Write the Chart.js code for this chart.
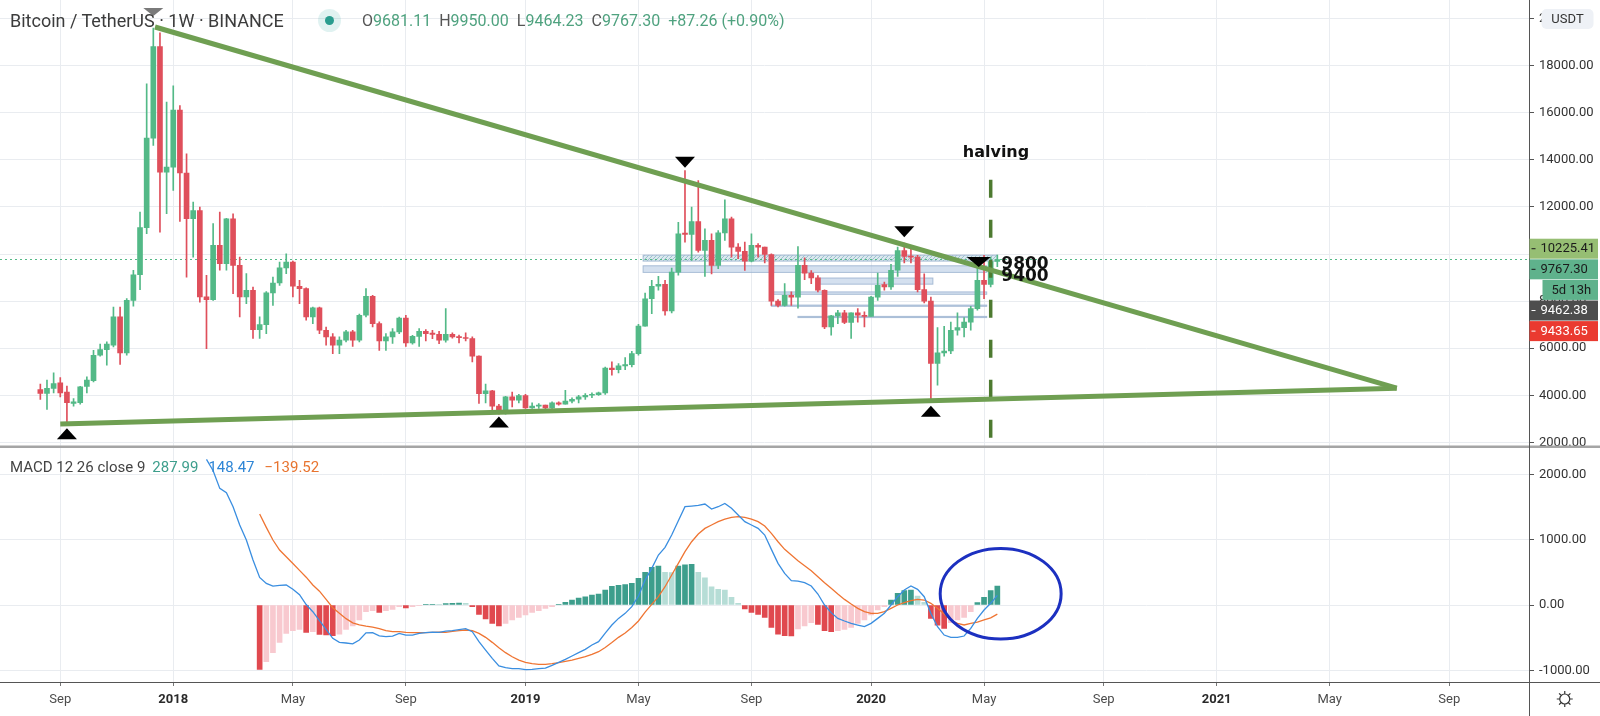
<!DOCTYPE html>
<html>
<head>
<meta charset="utf-8">
<title>BTCUSDT 1W</title>
<script src="https://cdn.jsdelivr.net/npm/chart.js@4.4.1/dist/chart.umd.min.js"></script>
<style>
html, body { margin: 0; padding: 0; background: #fff; }
#wrap { position: relative; width: 1600px; height: 716px; overflow: hidden; font-family: Roboto, "Liberation Sans", sans-serif; }
#chart { position: absolute; left: 0; top: 0; }
.over { position: absolute; white-space: nowrap; line-height: 1; }
#title { left: 10px; top: 12px; font-size: 18px; color: #3c3c3c; }
#live { left: 318px; top: 9px; width: 23px; height: 23px; border-radius: 50%; background: rgba(38,166,154,0.14); }
#live::after { content: ""; position: absolute; left: 7px; top: 7px; width: 9px; height: 9px; border-radius: 50%; background: #2a9d8f; }
#ohlc { left: 362px; top: 13px; font-size: 16px; color: #555; }
#ohlc .v { color: #4fa27f; }
#ohlc .g { margin-left: 8px; }
#macd { left: 10px; top: 460px; font-size: 15px; color: #444; }
#macd .h { color: #3d9e8c; margin-left: 7px; }
#macd .m { color: #2f86d6; margin-left: 10px; }
#macd .s { color: #e8742f; margin-left: 10px; }
</style>
</head>
<body>
<div id="wrap">
  <canvas id="chart" width="1600" height="716"></canvas>
  <div id="title" class="over">Bitcoin / TetherUS · 1W · BINANCE</div>
  <div id="live" class="over"></div>
  <div id="ohlc" class="over">O<span class="v">9681.11</span><span class="g">H</span><span class="v">9950.00</span><span class="g">L</span><span class="v">9464.23</span><span class="g">C</span><span class="v">9767.30</span><span class="g v">+87.26 (+0.90%)</span></div>
  <div id="macd" class="over">MACD 12 26 close 9<span class="h">287.99</span><span class="m">148.47</span><span class="s">−139.52</span></div>
</div>
<script>
// weeks are counted from Mon 1 Jan 2018 (week 0); first candle is 14 Aug 2017
const FIRST_WEEK = -20;

const opens = [4240,4080,4290,4530,4140,3650,3690,4380,4620,5700,
  5940,6130,7330,5800,8030,9120,11120,14920,18810,13480,
  13690,16120,13440,11500,11850,8180,8060,10370,9590,11500,
  9520,8180,8460,6790,7000,8350,8770,9410,9660,8630,
  8530,7330,7710,6760,6480,6130,6340,6690,6340,7400,
  8200,7040,6310,6480,6690,7280,6220,6500,6720,6640,
  6590,6340,6590,6480,6450,6410,5660,4070,4190,3540,
  3250,3930,3790,3990,3460,3540,3580,3460,3680,3620,
  3750,3830,3930,4000,4030,4100,5160,5090,5250,5300,
  5770,6940,8100,8630,8710,7580,9230,10890,10830,11380,
  10150,10580,9520,10900,11500,10290,10110,9700,10370,10290,
  9980,8000,7820,8240,8170,9520,9190,8990,8460,6900,
  7370,7500,7090,7500,7400,7350,8170,8700,8600,9310,
  10150,9900,9870,8490,8000,5350,5800,5880,6760,6870,
  7110,7680,8880,8710,9681.11];
const highs = [4470,4640,4950,4750,4390,3860,4380,4780,5910,6170,
  6270,7750,7750,8110,9310,11780,17230,19600,19400,16450,
  17150,16310,14260,12210,11990,9090,11290,11780,11520,11710,
  9870,9170,8600,7330,8400,9020,9660,10010,9700,8880,
  8560,7750,7750,6900,6620,6480,6760,6760,7450,8530,
  8250,7120,6620,6830,7320,7400,6550,6830,6790,6760,
  6720,7680,6650,6560,6650,6480,5680,4470,4210,3620,
  3960,4140,4040,4040,3680,3650,3580,3720,3720,4210,
  3890,4000,4070,4100,4140,5200,5420,5350,5600,5870,
  7010,8340,8880,9050,8880,9400,11350,13550,11990,13120,
  11070,10860,11000,12300,11570,10440,10510,10860,10440,10300,
  10010,8060,8740,8390,10320,9840,9300,9080,8480,7400,
  7610,7610,7500,7680,7540,8200,9190,8810,9560,10300,
  10470,10220,9940,9160,8170,6870,6930,7110,7500,7300,
  7780,9590,9940,9870,9950];
const lows = [3820,3400,4100,3930,2800,3540,3620,4100,4570,5660,
  5280,6050,5310,5700,7780,8490,10860,14610,10930,11710,
  12700,11390,9020,9870,7960,5980,8030,9310,9310,8320,
  7330,7890,6410,6410,6620,7820,8670,9170,8180,7890,
  7190,7040,6620,6130,5770,5770,6270,6080,6270,7330,
  6900,5910,5910,6200,6620,6080,6170,6080,6310,6400,
  6190,6260,6430,6220,6310,5420,3650,3680,3300,3200,
  3200,3510,3680,3440,3440,3440,3370,3440,3580,3620,
  3680,3680,3820,3900,3990,4040,4850,4950,5090,5200,
  5700,6930,7470,8460,7400,7500,9100,10500,9730,10080,
  9050,9160,9380,10580,9870,9800,9300,9660,9870,9620,
  7820,7750,7780,7820,7700,8910,8740,8390,6830,6550,
  7040,7040,6410,7110,6900,7350,8030,8460,8500,9050,
  9620,9620,8390,7920,3790,4430,5660,5770,6550,6480,
  6760,7610,8100,8600,9464.23];
const closes = [4080,4290,4500,4100,3690,3720,4360,4640,5700,5940,
  6170,7330,5800,8030,9120,11120,14920,18810,13480,13690,
  16120,13440,11500,11850,8180,8060,10370,9590,11500,9520,
  8180,8460,6790,7000,8350,8770,9410,9660,8630,8530,
  7330,7710,6760,6480,6130,6340,6690,6340,7400,8200,
  7040,6310,6480,6690,7280,6220,6500,6720,6620,6590,
  6340,6590,6480,6450,6410,5660,4070,4190,3540,3250,
  3930,3790,3990,3460,3540,3580,3460,3680,3620,3750,
  3830,3930,4000,4030,4100,5160,5090,5250,5300,5770,
  6940,8100,8630,8710,7580,9230,10860,10830,11380,10150,
  10580,9520,10900,11500,10290,10110,9700,10370,10290,9980,
  8000,7820,8240,8170,9520,9190,8990,8460,6900,7370,
  7500,7090,7500,7400,7350,8170,8670,8600,9310,10150,
  9900,9870,8490,8000,5350,5800,5880,6760,6870,7110,
  7680,8880,8710,9680,9767.30];

// MACD 12 26 9: line starts at week 5, signal and histogram at week 13
const MACD_FIRST_WEEK = 5;
const macdLine = [2230,2056,1786,1720,1505,1225,995,689,423,331,
  290,301,306,242,158,7,-103,-238,-373,-511,
  -572,-582,-595,-536,-426,-424,-473,-485,-475,-434,
  -460,-460,-434,-424,-414,-419,-399,-393,-378,-363,
  -409,-562,-690,-817,-934,-960,-975,-975,-991,-986,
  -975,-965,-924,-878,-832,-781,-730,-679,-613,-562,
  -430,-307,-205,-128,-26,138,382,561,765,883,
  1071,1291,1505,1515,1526,1546,1469,1505,1556,1480,
  1378,1276,1225,1173,1071,852,638,484,372,367,
  342,291,168,0,-117,-205,-245,-281,-307,-332,
  -281,-205,-128,0,127,229,291,240,127,-128,
  -332,-460,-495,-495,-475,-358,-205,-77,26,148];
const SIGNAL_FIRST_WEEK = 13;
const signalLine = [1393,1189,995,842,740,635,530,426,306,212,
  87,-41,-127,-209,-273,-306,-324,-338,-360,-393,
  -409,-409,-419,-424,-424,-424,-419,-414,-419,-404,
  -393,-383,-393,-434,-495,-572,-654,-730,-792,-843,
  -878,-899,-909,-909,-899,-884,-863,-843,-817,-792,
  -756,-715,-650,-575,-495,-430,-345,-245,-110,10,
  127,280,459,638,816,969,1087,1173,1225,1276,
  1316,1342,1352,1342,1316,1276,1209,1097,969,852,
  765,678,602,525,433,342,255,168,86,15,
  -51,-102,-128,-128,-102,-51,0,36,66,87,
  76,26,-51,-138,-230,-281,-306,-280,-262,-228,
  -198,-140];
const histogram = [-985,-868,-730,-572,-434,-393,-373,-419,-409,-450,
  -460,-470,-445,-373,-322,-230,-102,-87,-113,-87,
  -67,-26,-46,-26,-10,10,10,6,20,26,
  31,26,-26,-143,-215,-281,-322,-281,-230,-189,
  -153,-113,-87,-51,-26,10,41,76,107,127,
  153,168,229,285,303,311,331,408,500,577,
  597,500,498,597,617,622,500,418,280,240,
  229,117,26,-61,-113,-143,-189,-342,-445,-470,
  -472,-368,-322,-271,-296,-393,-409,-393,-373,-342,
  -281,-230,-153,-77,-26,76,179,219,229,138,
  41,-204,-307,-358,-271,-230,-189,-102,36,117,
  219,288];

// time axis: first weekly bar of each labelled month
const tickWeeks = [-17, 0, 18, 35, 53, 70, 87, 105, 122, 140, 157, 174, 192];
const tickLabels = ['Sep', '2018', 'May', 'Sep', '2019', 'May', 'Sep', '2020', 'May', 'Sep', '2021', 'May', 'Sep'];
const priceTicks = [2000, 4000, 6000, 8000, 10000, 12000, 14000, 16000, 18000, 20000];
const macdTicks = [-1000, 0, 1000, 2000];

// drawings on the price pane (week, price)
const upperTrend = [[-2.75, 19644], [184.1, 4300]];
const lowerTrend = [[-17, 2779], [184.1, 4300]];
const halvingWeek = 123;
const halvingRange = [13150, 2050];
const lastPrice = 9767.30;

const markerWeeks = [-3, -16, 49, 77, 110, 114, 121.2];
const markerPrices = [20280, 2360, 2860, 13900, 10944, 3316, 9660];
const markerPointsDown = [true, false, false, true, true, false, true];

const bandFrom = [70.7, 70.7, 97.3, 90, 90, 94];
const bandTo = [124, 122.4, 114.3, 122.4, 122.4, 122.4];
const bandLow = [9700, 9220, 8720, 8290, 7780, 7300];
const bandHigh = [9950, 9500, 8980, 8390, 7830, 7350];

const noteTexts = ['halving', '9800', '9400'];
const noteWeeks = [118.8, 124.6, 124.6];
const notePrices = [14290, 9534, 9024];

// ellipse on the MACD pane: centre and half sizes
const circle = { week: 124.5, value: 173, halfWeeks: 9.1, halfValue: 694 };

const priceBadges = [
  { value: 10225.41, bg: '#96be73', fg: '#1b1b1b' },
  { value: 9767.30, bg: '#5fb28c', fg: '#1b1b1b', countdown: '5d 13h' },
  { value: 9462.38, bg: '#4d4d4d', fg: '#ffffff' },
  { value: 9433.65, bg: '#ea3a30', fg: '#ffffff' }
];

const UP = '#53b987';
const DOWN = '#df4f5b';
const TREND = '#6f9f52';
const GRID = '#e9ecf0';

const isUp = i => closes[i] >= opens[i];

function hatchPattern(ctx) {
  const c = document.createElement('canvas');
  c.width = 4;
  c.height = 4;
  const g = c.getContext('2d');
  g.fillStyle = 'rgba(205, 224, 232, 0.75)';
  g.fillRect(0, 0, 4, 4);
  g.strokeStyle = 'rgba(140, 182, 196, 0.8)';
  g.beginPath();
  g.moveTo(0, 4);
  g.lineTo(4, 0);
  g.stroke();
  return ctx.createPattern(c, 'repeat');
}

function triangle(ctx, cx, cy, w, h, down) {
  ctx.beginPath();
  if (down) {
    ctx.moveTo(cx - w / 2, cy - h / 2);
    ctx.lineTo(cx + w / 2, cy - h / 2);
    ctx.lineTo(cx, cy + h / 2);
  } else {
    ctx.moveTo(cx - w / 2, cy + h / 2);
    ctx.lineTo(cx + w / 2, cy + h / 2);
    ctx.lineTo(cx, cy - h / 2);
  }
  ctx.closePath();
  ctx.fill();
}

const overlay = {
  id: 'overlay',
  beforeDatasetsDraw(chart) {
    const { ctx, scales: { x, yPrice } } = chart;
    ctx.save();
    ctx.beginPath();
    ctx.rect(x.left, yPrice.top, x.width, yPrice.height);
    ctx.clip();
    for (let i = 0; i < bandFrom.length; i++) {
      const x0 = x.getPixelForValue(bandFrom[i]);
      const x1 = x.getPixelForValue(bandTo[i]);
      const y0 = yPrice.getPixelForValue(bandHigh[i]);
      const y1 = yPrice.getPixelForValue(bandLow[i]);
      ctx.fillStyle = i === 0 ? hatchPattern(ctx) : 'rgba(186, 205, 229, 0.62)';
      ctx.fillRect(x0, y0, x1 - x0, y1 - y0);
      ctx.strokeStyle = 'rgba(160, 182, 210, 0.9)';
      ctx.lineWidth = 1;
      ctx.strokeRect(x0, y0, x1 - x0, y1 - y0);
    }
    ctx.restore();
  },
  afterDatasetsDraw(chart) {
    const { ctx, scales: { x, yPrice, yMacd } } = chart;
    ctx.save();
    // pivot markers
    markerWeeks.forEach((w, i) => {
      const cx = x.getPixelForValue(w);
      const cy = yPrice.getPixelForValue(markerPrices[i]);
      ctx.fillStyle = i === 0 ? '#7a7a7a' : '#000';
      if (i === 0) triangle(ctx, cx, cy, 20, 8, true);
      else if (i === markerWeeks.length - 1) triangle(ctx, cx, cy, 24, 10, true);
      else triangle(ctx, cx, cy, 20, 11, markerPointsDown[i]);
    });
    // notes
    ctx.fillStyle = '#111';
    ctx.textBaseline = 'middle';
    ctx.textAlign = 'left';
    noteTexts.forEach((t, i) => {
      ctx.font = i === 0 ? 'bold 16px "DejaVu Sans"' : 'bold 17px "DejaVu Sans"';
      ctx.fillText(t, x.getPixelForValue(noteWeeks[i]), yPrice.getPixelForValue(notePrices[i]));
    });
    // ellipse on MACD
    const ex = x.getPixelForValue(circle.week);
    const ey = yMacd.getPixelForValue(circle.value);
    const rx = Math.abs(x.getPixelForValue(circle.week + circle.halfWeeks) - ex);
    const ry = Math.abs(yMacd.getPixelForValue(circle.value + circle.halfValue) - ey);
    ctx.strokeStyle = '#1c30c0';
    ctx.lineWidth = 3;
    ctx.beginPath();
    ctx.ellipse(ex, ey, rx, ry, 0, 0, Math.PI * 2);
    ctx.stroke();
    ctx.restore();
  },
  afterDraw(chart) {
    const { ctx, scales: { x, yPrice } } = chart;
    const W = chart.width, H = chart.height;
    const axisX = Math.round(yPrice.left) + 0.5;
    ctx.save();
    // pane divider
    ctx.strokeStyle = '#a5a5a5';
    ctx.lineWidth = 2.5;
    ctx.beginPath();
    ctx.moveTo(0, yPrice.bottom);
    ctx.lineTo(W, yPrice.bottom);
    ctx.stroke();
    // axis lines
    ctx.strokeStyle = '#555';
    ctx.lineWidth = 1;
    ctx.beginPath();
    ctx.moveTo(axisX, 0);
    ctx.lineTo(axisX, H);
    const by = Math.round(x.top) + 0.5;
    ctx.moveTo(0, by);
    ctx.lineTo(W, by);
    ctx.stroke();

    // currency badge
    ctx.fillStyle = '#eef1f6';
    ctx.beginPath();
    ctx.roundRect(axisX + 12, 9, 52, 20, 5);
    ctx.fill();
    ctx.fillStyle = '#333';
    ctx.font = '13px Roboto';
    ctx.textAlign = 'center';
    ctx.textBaseline = 'middle';
    ctx.fillText('USDT', axisX + 38, 19.5);

    // price labels, stacked so they do not overlap
    const rowH = 20.6;
    let lastY = -Infinity;
    const badge = (y, text, bg, fg, left) => {
      ctx.fillStyle = bg;
      ctx.fillRect(left, y - 10, W - 2 - left, 20);
      ctx.fillStyle = fg;
      ctx.textAlign = 'left';
      ctx.fillText(text, left + (left > axisX + 1 ? 9 : 11), y + 0.5);
    };
    priceBadges.forEach(b => {
      let y = Math.max(yPrice.getPixelForValue(b.value), lastY + rowH);
      badge(y, b.value.toFixed(2), b.bg, b.fg, axisX);
      ctx.strokeStyle = b.fg;
      ctx.beginPath();
      ctx.moveTo(axisX + 2, y);
      ctx.lineTo(axisX + 6, y);
      ctx.stroke();
      lastY = y;
      if (b.countdown) {
        y = lastY + rowH;
        badge(y, b.countdown, b.bg, b.fg, axisX + 13);
        lastY = y;
      }
    });

    // settings gear
    const gx = (axisX + W) / 2, gy = (x.top + H) / 2;
    ctx.strokeStyle = '#333';
    ctx.lineWidth = 1.2;
    ctx.beginPath();
    ctx.arc(gx, gy, 5, 0, Math.PI * 2);
    for (let k = 0; k < 8; k++) {
      const a = k * Math.PI / 4;
      ctx.moveTo(gx + Math.cos(a) * 5, gy + Math.sin(a) * 5);
      ctx.lineTo(gx + Math.cos(a) * 8, gy + Math.sin(a) * 8);
    }
    ctx.stroke();
    ctx.restore();
  }
};

const histColor = ctx => {
  const i = ctx.dataIndex;
  const v = histogram[i];
  const prev = i > 0 ? histogram[i - 1] : null;
  if (v >= 0) return prev === null || v >= prev ? '#3d9e8c' : '#b6ddd6';
  return prev === null || v <= prev ? '#e0494f' : '#f8c9cf';
};

const chart = new Chart(document.getElementById('chart'), {
  type: 'bar',
  data: {
    datasets: [
      {
        type: 'line', yAxisID: 'yPrice', order: 1,
        data: upperTrend.map(([w, p]) => ({ x: w, y: p })),
        borderColor: TREND, borderWidth: 5, pointRadius: 0
      },
      {
        type: 'line', yAxisID: 'yPrice', order: 1,
        data: lowerTrend.map(([w, p]) => ({ x: w, y: p })),
        borderColor: TREND, borderWidth: 5, pointRadius: 0
      },
      {
        type: 'line', yAxisID: 'yPrice', order: 2,
        data: halvingRange.map(p => ({ x: halvingWeek, y: p })),
        borderColor: '#4d7a30', borderWidth: 3.5, borderDash: [18, 22], pointRadius: 0
      },
      {
        yAxisID: 'yPrice', order: 3, grouped: false, barThickness: 5, minBarLength: 1,
        data: opens.map((o, i) => ({ x: FIRST_WEEK + i, y: [o, closes[i]] })),
        backgroundColor: ctx => isUp(ctx.dataIndex) ? UP : DOWN
      },
      {
        yAxisID: 'yPrice', order: 4, grouped: false, barThickness: 1,
        data: lows.map((l, i) => ({ x: FIRST_WEEK + i, y: [l, highs[i]] })),
        backgroundColor: ctx => isUp(ctx.dataIndex) ? UP : DOWN
      },
      {
        type: 'line', yAxisID: 'yPrice', order: 5,
        data: [{ x: -26.07, y: lastPrice }, { x: 204, y: lastPrice }],
        borderColor: UP, borderWidth: 1, borderDash: [2, 3], pointRadius: 0
      },
      {
        type: 'line', yAxisID: 'yMacd', order: 1,
        data: signalLine.map((v, i) => ({ x: SIGNAL_FIRST_WEEK + i, y: v })),
        borderColor: '#ef7533', borderWidth: 1.3, pointRadius: 0
      },
      {
        type: 'line', yAxisID: 'yMacd', order: 0,
        data: macdLine.map((v, i) => ({ x: MACD_FIRST_WEEK + i, y: v })),
        borderColor: '#3a8ee0', borderWidth: 1.3, pointRadius: 0
      },
      {
        yAxisID: 'yMacd', order: 4, grouped: false, barThickness: 5,
        data: histogram.map((v, i) => ({ x: SIGNAL_FIRST_WEEK + i, y: v })),
        backgroundColor: histColor
      }
    ]
  },
  options: {
    responsive: false,
    animation: false,
    events: [],
    layout: { padding: 0, autoPadding: false },
    plugins: { legend: { display: false }, tooltip: { enabled: false } },
    scales: {
      x: {
        type: 'linear', min: -26.07, max: 204, offset: false,
        afterBuildTicks: s => { s.ticks = tickWeeks.map(v => ({ value: v })); },
        afterFit: s => { s.height = 34; s.paddingLeft = 0; s.paddingRight = 0; },
        ticks: {
          autoSkip: false, maxRotation: 0, padding: 6,
          callback: (v, i) => tickLabels[i],
          color: ctx => /^\d{4}$/.test(ctx.tick && ctx.tick.label) ? '#2a2a2a' : '#4c4c4c',
          font: ctx => ({ family: 'Roboto', size: 13, weight: /^\d{4}$/.test(ctx.tick && ctx.tick.label) ? 'bold' : 'normal' })
        },
        grid: { offset: false, color: GRID, tickLength: 4, tickColor: '#777' },
        border: { color: '#555' }
      },
      yPrice: {
        type: 'linear', position: 'right', stack: 'panes', stackWeight: 446.7,
        min: 1815, max: 20791,
        afterBuildTicks: s => { s.ticks = priceTicks.map(v => ({ value: v })); },
        afterFit: s => { s.width = 71; s.paddingTop = 0; s.paddingBottom = 0; },
        ticks: { padding: 5, color: '#333', font: { family: 'Roboto', size: 13 }, callback: v => v.toFixed(2) },
        grid: { color: GRID, tickLength: 5, tickColor: '#555' },
        border: { color: '#444' }
      },
      yMacd: {
        type: 'linear', position: 'right', stack: 'panes', stackWeight: 235.3,
        min: -1179, max: 2424,
        afterBuildTicks: s => { s.ticks = macdTicks.map(v => ({ value: v })); },
        afterFit: s => { s.width = 71; s.paddingTop = 0; s.paddingBottom = 0; },
        ticks: { padding: 5, color: '#333', font: { family: 'Roboto', size: 13 }, callback: v => v.toFixed(2) },
        grid: { color: GRID, tickLength: 5, tickColor: '#555' },
        border: { color: '#444' }
      }
    }
  },
  plugins: [overlay]
});
</script>
</body>
</html>
